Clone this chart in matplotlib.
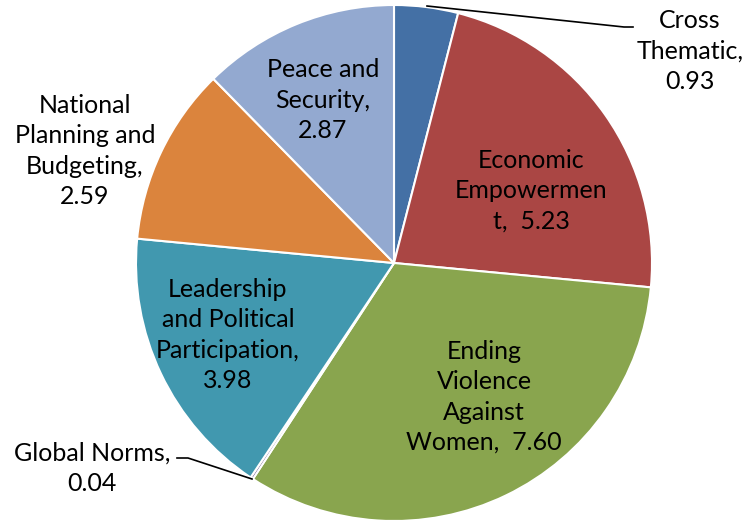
import matplotlib.pyplot as plt

labels = ["Cross\nThematic,\n0.93",
          "Economic\nEmpowermen\nt,  5.23",
          "Ending\nViolence\nAgainst\nWomen,  7.60",
          "Global Norms,\n0.04",
          "Leadership\nand Political\nParticipation,\n3.98",
          "National\nPlanning and\nBudgeting,\n2.59",
          "Peace and\nSecurity,\n2.87"]
values = [0.93, 5.23, 7.60, 0.04, 3.98, 2.59, 2.87]
colors = ["#4470A5", "#AA4644", "#89A54E", "#71588F", "#4198AF", "#DB843D", "#93A9D0"]

# label positions in pixels of the reference (center 394,263, radius 258)
label_px = [(690, 51), (531, 191), (484, 397), (92, 468), (228, 335), (85, 151), (323, 100)]

plt.rcParams['font.family'] = ['Lato', 'DejaVu Sans']

fig = plt.figure(figsize=(7.46, 5.26), dpi=100)
cx, cy, r = 394, 263, 258
ax = fig.add_axes([(cx - r) / 746, (526 - cy - r) / 526, 2 * r / 746, 2 * r / 526])

ax.pie(values, colors=colors, startangle=90, counterclock=False,
       wedgeprops=dict(edgecolor="white", linewidth=1.5))
ax.set_xlim(-1, 1)
ax.set_ylim(-1, 1)
ax.set_aspect("equal")
ax.axis("off")


def to_data(px, py):
    return (px - cx) / r, (cy - py) / r


for lab, (px, py) in zip(labels, label_px):
    x, y = to_data(px, py)
    ax.text(x, y, lab, ha="center", va="center", fontsize=18,
            linespacing=1.37, color="black", clip_on=False)

# leader lines
xs, ys = zip(*[to_data(427, 6), to_data(624, 27), to_data(633, 27)])
ax.plot(xs, ys, color="black", lw=1.2, clip_on=False)
xs, ys = zip(*[to_data(177, 458), to_data(188, 458), to_data(252, 479)])
ax.plot(xs, ys, color="black", lw=1.2, clip_on=False)

fig.savefig("out.png", dpi=100)
